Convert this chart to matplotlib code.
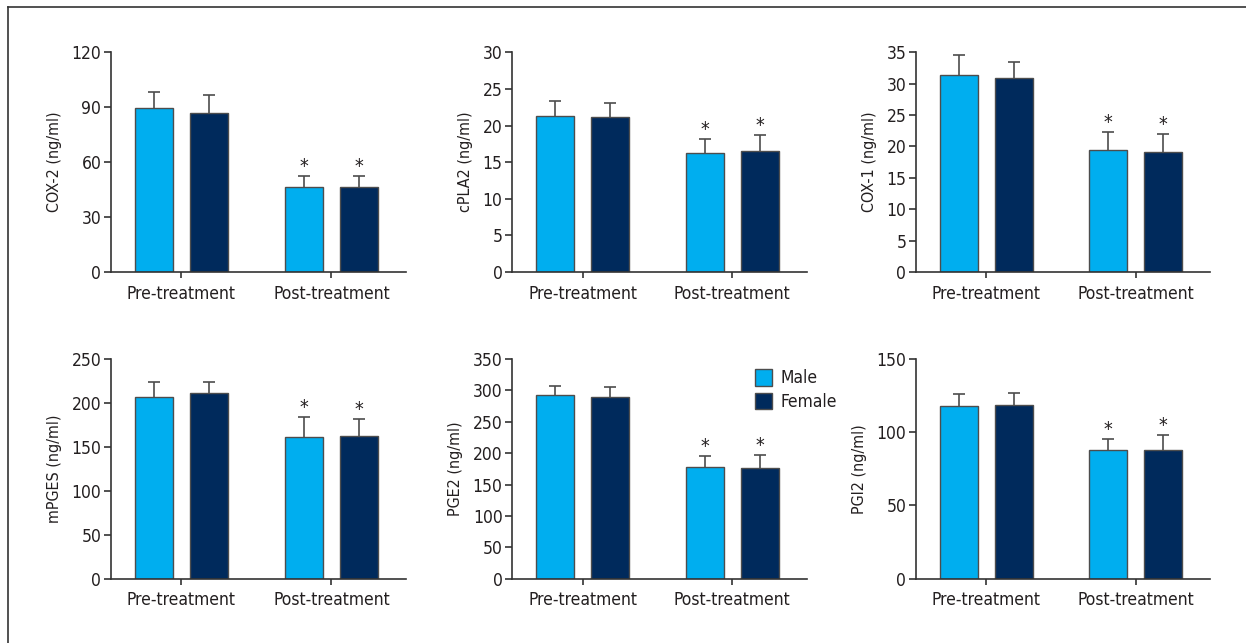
import numpy as np
import matplotlib.pyplot as plt
from matplotlib.lines import Line2D
from matplotlib.patches import Patch

plt.rcParams['font.family'] = ['DejaVu Sans']
plt.rcParams['font.stretch'] = 'condensed'

groups = ['Pre-treatment', 'Post-treatment']
series = ['Male', 'Female']

labels = ['COX-2 (ng/ml)', 'cPLA2 (ng/ml)', 'COX-1 (ng/ml)',
          'mPGES (ng/ml)', 'PGE2 (ng/ml)', 'PGI2 (ng/ml)']
ymax = [120, 30, 35, 250, 350, 150]
ystep = [30, 5, 5, 50, 50, 50]

# means [pre, post]
male_mean = [[89.5, 46.2], [21.35, 16.2], [31.4, 19.4],
             [207, 161], [292, 178.7], [118.1, 88.1]]
female_mean = [[86.9, 46.2], [21.1, 16.5], [30.85, 19.05],
               [211, 162], [290, 176], [118.8, 87.6]]
# top of error bar
male_err_top = [[98.4, 52.5], [23.4, 18.1], [34.5, 22.25],
                [223.5, 183.6], [307, 196], [126.3, 95.6]]
female_err_top = [[96.7, 52.5], [23.1, 18.75], [33.4, 22.0],
                  [223.5, 181.7], [305, 197], [127, 98]]

c_male = '#00aeef'
c_female = '#002a5c'
c_edge = '#4d4d4d'
c_text = '#231f20'

W, H = 1246, 643
fig = plt.figure(figsize=(W / 100, H / 100), dpi=100)

# panel boxes in pixels: (left, top, right, bottom)
lefts = [111, 512.3, 916]
rights = [406, 806.7, 1210]
tops = [52.3, 359]
bottoms = [272, 578.7]

x = np.arange(len(groups))
bw = 0.253
off = 0.183

for i in range(6):
    r, c = divmod(i, 3)
    ax = fig.add_axes([lefts[c] / W, 1 - bottoms[r] / H,
                       (rights[c] - lefts[c]) / W, (bottoms[r] - tops[r]) / H])
    m = np.array(male_mean[i])
    f = np.array(female_mean[i])
    me = np.array(male_err_top[i]) - m
    fe = np.array(female_err_top[i]) - f
    for xs, vals, err, col in [(x - off, m, me, c_male), (x + off, f, fe, c_female)]:
        ax.bar(xs, vals, bw, color=col, edgecolor=c_edge, linewidth=1.0, zorder=2)
        # symmetric bars drawn behind, so only the upper half shows
        ax.errorbar(xs, vals, yerr=err, fmt='none',
                    ecolor=c_edge, elinewidth=1.2, capsize=4, capthick=1.2, zorder=1)
        # asterisk for post-treatment
        ax.annotate('*', (xs[1], vals[1] + err[1]), xytext=(0, 0),
                    textcoords='offset points', ha='center', va='bottom',
                    fontsize=14, color=c_text)
    ax.set_xlim(-0.47, 1.497)
    ax.set_ylim(0, ymax[i])
    ax.set_yticks(np.arange(0, ymax[i] + 1, ystep[i]))
    ax.set_xticks(x)
    ax.set_xticklabels(groups)
    ax.set_ylabel(labels[i], fontsize=11.5, color=c_text, labelpad=7)
    for s in ['top', 'right']:
        ax.spines[s].set_visible(False)
    for s in ['left', 'bottom']:
        ax.spines[s].set_color('#333333')
        ax.spines[s].set_linewidth(1.2)
    ax.tick_params(axis='y', length=5, width=1.2, color='#333333',
                   labelsize=12.5, labelcolor=c_text, pad=2)
    ax.tick_params(axis='x', length=4, width=1.2, color='#333333',
                   labelsize=12.5, labelcolor=c_text, pad=5)

    if i == 4:
        handles = [Patch(facecolor=c_male, edgecolor=c_edge, linewidth=1.0),
                   Patch(facecolor=c_female, edgecolor=c_edge, linewidth=1.0)]
        ax.legend(handles, series, loc='upper left', bbox_to_anchor=(0.79, 1.0),
                  frameon=False, fontsize=12.5, handlelength=0.95, handleheight=1.05,
                  handletextpad=0.5, labelspacing=0.3, borderaxespad=0.2,
                  labelcolor=c_text)

# outer frame (top and left edges)
fig.add_artist(Line2D([8 / W, 1], [1 - 7 / H, 1 - 7 / H], color='#333333', lw=1.2))
fig.add_artist(Line2D([8 / W, 8 / W], [0, 1 - 7 / H], color='#333333', lw=1.2))

fig.savefig('out.png', dpi=100)
